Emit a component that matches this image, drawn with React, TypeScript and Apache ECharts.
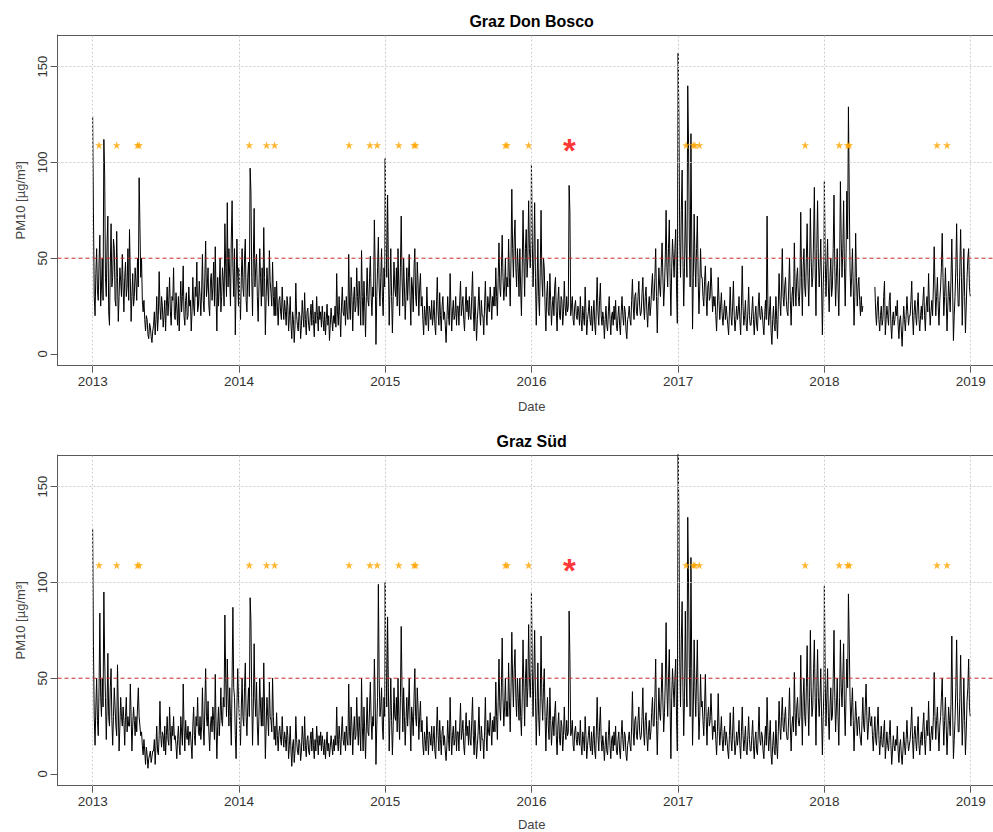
import React, { useEffect, useRef } from "react";
import * as echarts from "echarts";

// ---------- data ----------
const YEARS = [2013, 2014, 2015, 2016, 2017, 2018];
const STEP_DAYS = 2; // one reading every 2 days

// Graz Don Bosco, PM10 [µg/m³]
const bosco2013 = [
  124, 74, 30, 20, 42, 55, 33, 28, 48, 62, 25, 35, 50, 28, 112, 94,
  40, 30, 58, 72, 22, 15, 45, 68, 35, 40, 60, 55, 28, 25,
  64, 40, 17, 30, 45, 38, 30, 52, 35, 22, 40, 48, 30, 35, 55, 28,
  65, 40, 17, 30, 42, 25, 30, 45, 38, 28, 50, 35, 92, 67, 40,
  50, 28, 22, 28, 18, 12, 20, 18, 10, 8, 16, 14, 9, 6, 12,
  15, 22, 10, 18, 30, 12, 20, 43, 25, 18, 30, 25, 14, 20, 28,
  12, 25, 35, 20, 28, 40, 22, 15, 30, 28, 45, 20, 18, 32, 24, 15,
  30, 12, 25, 38, 22, 30, 46, 20, 15, 28, 32, 18, 20, 35, 25,
  28, 12, 22, 40, 25, 20, 35, 30, 48, 22, 25, 38, 30, 20, 33,
  52, 28, 22, 40, 59, 30, 35, 45, 25, 20, 38, 42, 28, 35, 48, 25,
  56, 30, 12, 40, 25, 35, 50, 22, 30, 45, 38, 25, 68, 45, 30,
  79, 35, 55, 40, 25, 60, 80, 45, 30, 55, 10, 35, 60, 40, 25,
];
const bosco2014 = [
  45, 30, 18, 40, 55, 35, 30, 50, 60, 28, 22, 40, 48, 30, 97, 85,
  40, 20, 50, 76, 35, 45, 52, 30, 17, 35, 55, 40, 25, 45,
  30, 66, 40, 10, 30, 45, 35, 25, 54, 38, 32, 25, 48, 30, 20, 35,
  20, 38, 25, 15, 28, 30, 22, 18, 35, 25, 18, 28, 22, 15, 30,
  25, 12, 20, 30, 15, 8, 22, 18, 6, 15, 37, 20, 15, 12, 22,
  20, 8, 15, 28, 20, 14, 32, 18, 10, 22, 24, 15, 12, 20, 26,
  15, 28, 18, 9, 22, 16, 30, 20, 12, 25, 18, 22, 14, 25, 18, 12,
  22, 10, 18, 26, 15, 20, 7, 15, 24, 18, 12, 20, 16, 25, 14,
  42, 22, 15, 30, 20, 9, 25, 35, 22, 20, 28, 15, 30, 22, 18,
  52, 25, 18, 40, 30, 12, 28, 35, 22, 25, 45, 30, 20, 38, 28, 15,
  54, 30, 15, 38, 25, 9, 30, 45, 28, 25, 40, 51, 30, 20, 35,
  30, 70, 45, 5, 30, 45, 61, 35, 25, 40, 55, 30, 20, 45, 35,
];
const bosco2015 = [
  102, 60, 40, 83, 45, 15, 35, 55, 30, 11, 30, 48, 35, 30, 45, 25,
  55, 35, 20, 45, 72, 40, 25, 50, 35, 18, 30, 45, 28, 40,
  52, 30, 15, 40, 35, 22, 45, 55, 30, 25, 48, 38, 20, 35, 42, 25,
  30, 18, 10, 25, 20, 15, 35, 22, 12, 25, 22, 18, 28, 15, 20,
  28, 15, 10, 25, 40, 22, 15, 32, 20, 12, 25, 30, 18, 22, 15,
  6, 18, 30, 20, 15, 42, 25, 12, 22, 28, 18, 20, 30, 15, 25,
  25, 15, 28, 38, 20, 25, 30, 18, 12, 25, 35, 22, 28, 18, 30, 20,
  18, 30, 43, 22, 12, 30, 20, 7, 18, 25, 35, 22, 15, 28, 20,
  20, 10, 25, 38, 22, 15, 30, 25, 22, 35, 28, 18, 30, 25, 35,
  25, 45, 30, 20, 40, 58, 35, 30, 45, 62, 40, 28, 35, 50, 30, 40,
  35, 60, 40, 25, 50, 86, 55, 40, 60, 70, 45, 35, 55, 45, 30,
  55, 35, 20, 45, 75, 50, 30, 55, 65, 40, 50, 80, 55, 45, 60,
];
const bosco2016 = [
  99, 60, 35, 50, 79, 40, 15, 35, 60, 30, 20, 45, 75, 40, 30, 50,
  45, 25, 12, 30, 38, 22, 20, 42, 28, 15, 25, 30, 20, 35,
  40, 22, 12, 28, 35, 20, 18, 30, 28, 15, 22, 38, 25, 20, 30, 22,
  25, 88, 74, 20, 25, 30, 18, 15, 25, 28, 20, 18, 25, 22, 15,
  30, 18, 12, 25, 20, 15, 35, 22, 10, 18, 22, 28, 18, 15, 25,
  12, 20, 28, 15, 10, 25, 40, 22, 15, 28, 37, 20, 15, 22, 18,
  8, 18, 25, 15, 12, 22, 30, 18, 10, 20, 22, 15, 25, 18, 28, 15,
  12, 20, 25, 15, 10, 22, 30, 20, 15, 25, 22, 12, 8, 18, 20,
  25, 18, 15, 28, 39, 25, 18, 30, 32, 22, 20, 30, 38, 25, 20,
  22, 32, 40, 25, 18, 30, 35, 22, 14, 25, 30, 20, 25, 35, 42, 28,
  28, 40, 55, 30, 11, 30, 45, 35, 30, 45, 58, 40, 25, 35, 50,
  75, 45, 35, 55, 70, 40, 20, 45, 60, 50, 40, 55, 65, 35, 16,
];
const bosco2017 = [
  157, 123, 60, 40, 75, 96, 50, 25, 45, 80, 55, 40, 140, 110, 60, 35,
  115, 60, 13, 40, 73, 50, 35, 55, 72, 40, 21, 35, 55, 40,
  40, 30, 25, 38, 46, 30, 20, 35, 38, 28, 30, 45, 35, 22, 30, 25,
  30, 20, 12, 25, 40, 28, 18, 25, 32, 20, 15, 22, 28, 18, 25,
  20, 15, 10, 22, 35, 20, 15, 25, 38, 20, 12, 18, 25, 18, 22,
  30, 18, 10, 25, 46, 25, 15, 20, 28, 15, 12, 22, 35, 20, 15,
  15, 22, 30, 18, 10, 20, 25, 15, 12, 25, 32, 20, 18, 25, 22, 15,
  10, 20, 28, 18, 72, 25, 15, 22, 30, 12, 5, 18, 25, 15, 12,
  30, 18, 8, 25, 42, 28, 20, 35, 55, 30, 25, 35, 40, 28, 22,
  20, 35, 50, 28, 15, 30, 35, 25, 58, 35, 25, 40, 45, 30, 25, 35,
  74, 40, 20, 45, 55, 35, 30, 50, 68, 40, 25, 45, 76, 50, 35,
  40, 60, 87, 45, 20, 55, 80, 50, 35, 45, 60, 35, 10, 35, 50,
];
const bosco2018 = [
  90, 50, 30, 45, 60, 35, 22, 40, 50, 30, 35, 55, 83, 45, 25, 40,
  55, 35, 20, 45, 90, 60, 40, 55, 80, 45, 25, 50, 85, 60,
  129, 85, 45, 30, 40, 55, 35, 15, 30, 63, 40, 25, 35, 40, 28, 20,
  30, 22, 25, null, null, null, null, null, null, null, null, null, null, null, null,
  null, null, 35, 22, 15, 25, 30, 18, 12, 20, 25, 15, 18, 30, 38,
  10, 18, 25, 20, 15, 28, 32, 15, 8, 18, 22, 15, 18, 25, 20,
  28, 15, 8, 18, 20, 12, 4, 15, 25, 18, 12, 20, 30, 22, 15, 20,
  20, 28, 38, 20, 10, 22, 28, 20, 15, 25, 32, 18, 12, 20, 25,
  18, 28, 35, 20, 12, 25, 30, 22, 42, 25, 15, 22, 28, 20, 35,
  56, 35, 20, 30, 40, 25, 15, 28, 35, 45, 63, 40, 20, 30, 45, 30,
  12, 25, 38, 30, 22, 40, 60, 35, 7, 20, 30, 45, 68, 40, 25,
  25, 45, 65, 40, 15, 35, 55, 30, 11, 25, 40, 50, 55, 35, 30,
];

// Graz Süd, PM10 [µg/m³]
const sued2013 = [
  128, 67, 30, 15, 35, 50, 28, 20, 45, 84, 40, 30, 50, 35, 95, 60,
  40, 18, 35, 63, 30, 25, 45, 55, 28, 15, 30, 45, 35, 25,
  20, 57, 35, 12, 25, 40, 30, 25, 35, 28, 15, 30, 40, 22, 30, 25,
  25, 47, 30, 12, 25, 35, 28, 20, 30, 22, 35, 45, 30, 25, 20,
  22, 15, 10, 18, 12, 5, 14, 10, 3, 8, 10, 12, 6, 9, 12,
  12, 18, 5, 15, 25, 12, 10, 20, 38, 20, 14, 22, 20, 12, 25,
  10, 20, 30, 18, 15, 35, 22, 12, 25, 20, 30, 18, 20, 15, 8, 18,
  25, 15, 10, 30, 22, 15, 47, 25, 12, 28, 20, 18, 25, 15, 22,
  22, 15, 8, 25, 35, 20, 15, 30, 25, 40, 22, 20, 30, 18, 25,
  45, 25, 15, 35, 55, 30, 25, 38, 22, 12, 25, 30, 22, 35, 28, 18,
  52, 25, 8, 25, 35, 20, 30, 45, 28, 25, 40, 35, 83, 50, 30,
  60, 40, 25, 45, 30, 15, 50, 87, 45, 40, 20, 8, 35, 55, 40,
];
const sued2014 = [
  40, 25, 15, 35, 50, 30, 25, 45, 58, 30, 20, 35, 45, 30, 92, 80,
  40, 15, 35, 68, 40, 30, 48, 25, 15, 30, 50, 35, 25, 40,
  25, 58, 35, 8, 25, 40, 30, 20, 48, 30, 28, 22, 50, 30, 18, 25,
  15, 32, 20, 12, 22, 25, 18, 15, 30, 20, 14, 22, 18, 12, 25,
  20, 8, 15, 25, 12, 4, 15, 18, 6, 12, 30, 18, 12, 10, 18,
  16, 7, 12, 25, 18, 12, 30, 15, 9, 18, 20, 12, 10, 18, 22,
  12, 24, 15, 8, 18, 12, 25, 18, 10, 20, 15, 22, 12, 20, 15, 10,
  18, 8, 15, 22, 12, 16, 9, 14, 20, 15, 10, 18, 12, 20, 15,
  35, 18, 12, 25, 18, 10, 22, 30, 18, 15, 22, 12, 25, 18, 15,
  47, 22, 15, 35, 25, 10, 22, 30, 18, 20, 40, 25, 15, 30, 22, 12,
  50, 25, 12, 35, 22, 8, 25, 40, 22, 20, 35, 48, 28, 18, 30,
  25, 60, 40, 5, 25, 40, 99, 50, 30, 35, 45, 25, 18, 40, 30,
];
const sued2015 = [
  100, 60, 35, 82, 45, 12, 30, 50, 28, 10, 25, 45, 30, 28, 40, 22,
  50, 30, 18, 40, 77, 45, 22, 45, 30, 15, 28, 40, 25, 35,
  50, 28, 12, 35, 30, 20, 40, 55, 30, 25, 45, 35, 18, 30, 38, 22,
  28, 15, 10, 22, 18, 12, 30, 20, 10, 22, 20, 15, 25, 12, 18,
  25, 12, 8, 22, 35, 20, 12, 28, 18, 10, 22, 25, 15, 20, 12,
  7, 15, 28, 18, 12, 40, 22, 10, 20, 25, 15, 18, 28, 12, 22,
  22, 12, 25, 37, 18, 22, 28, 15, 10, 22, 32, 20, 25, 15, 28, 18,
  15, 28, 40, 20, 10, 28, 18, 8, 15, 22, 35, 20, 12, 25, 18,
  18, 8, 22, 40, 20, 12, 28, 22, 20, 32, 25, 15, 28, 22, 30,
  22, 48, 30, 18, 38, 60, 35, 28, 45, 71, 40, 25, 35, 50, 30, 38,
  30, 58, 38, 22, 45, 74, 50, 35, 55, 65, 40, 30, 50, 40, 28,
  50, 30, 20, 40, 70, 45, 25, 50, 60, 35, 45, 78, 50, 40, 55,
];
const sued2016 = [
  95, 55, 30, 50, 75, 40, 15, 35, 58, 30, 20, 40, 72, 40, 28, 45,
  55, 30, 12, 30, 40, 25, 18, 45, 28, 15, 25, 30, 20, 32,
  38, 20, 10, 25, 32, 18, 15, 28, 25, 12, 20, 35, 22, 18, 28, 20,
  22, 85, 60, 20, 22, 28, 15, 12, 22, 25, 18, 15, 22, 20, 15,
  28, 15, 10, 22, 18, 12, 30, 20, 8, 15, 20, 25, 15, 12, 22,
  10, 18, 25, 12, 8, 22, 40, 20, 12, 25, 35, 18, 12, 20, 15,
  7, 15, 22, 12, 10, 20, 28, 15, 8, 18, 20, 12, 22, 15, 25, 12,
  10, 18, 22, 12, 8, 20, 28, 18, 12, 22, 20, 10, 7, 15, 18,
  22, 15, 12, 25, 43, 22, 15, 28, 30, 20, 18, 28, 35, 22, 18,
  20, 30, 45, 22, 15, 28, 32, 20, 12, 22, 28, 18, 22, 32, 40, 25,
  25, 40, 60, 28, 10, 28, 45, 32, 28, 42, 58, 38, 22, 32, 48,
  79, 45, 30, 50, 65, 35, 8, 40, 55, 45, 35, 50, 60, 30, 12,
];
const sued2017 = [
  170, 133, 60, 35, 70, 90, 45, 20, 40, 85, 50, 35, 134, 100, 55, 30,
  113, 55, 15, 35, 70, 45, 30, 50, 70, 38, 18, 30, 52, 35,
  38, 28, 20, 35, 52, 30, 15, 30, 35, 25, 28, 42, 30, 18, 25, 22,
  28, 18, 10, 22, 42, 25, 15, 22, 30, 18, 12, 20, 25, 15, 22,
  18, 12, 8, 20, 32, 18, 12, 22, 35, 18, 10, 15, 22, 15, 20,
  28, 15, 8, 22, 35, 20, 12, 18, 25, 12, 10, 20, 30, 18, 12,
  12, 20, 28, 15, 8, 18, 22, 12, 10, 22, 35, 18, 15, 22, 20, 12,
  8, 18, 25, 15, 40, 22, 12, 20, 28, 10, 5, 15, 22, 12, 10,
  28, 15, 8, 22, 38, 25, 18, 30, 40, 25, 22, 30, 35, 22, 18,
  18, 30, 45, 25, 12, 25, 30, 22, 53, 32, 20, 35, 40, 28, 25, 30,
  62, 35, 15, 40, 50, 30, 25, 45, 67, 38, 20, 40, 75, 45, 30,
  35, 55, 70, 40, 15, 45, 65, 40, 30, 40, 55, 30, 10, 30, 45,
];
const sued2018 = [
  98, 50, 25, 40, 55, 30, 18, 35, 45, 28, 30, 50, 75, 40, 22, 35,
  50, 30, 15, 40, 70, 45, 35, 50, 68, 35, 20, 40, 60, 45,
  94, 70, 40, 25, 35, 45, 28, 12, 25, 38, 30, 20, 28, 30, 22, 18,
  15, 28, 40, 25, 22, 35, 47, 30, 18, 25, 35, 28, 25, 30, 20,
  12, 22, 30, 18, 15, 25, 35, 20, 10, 18, 25, 15, 14, 22, 28,
  8, 15, 22, 15, 12, 20, 28, 15, 5, 12, 20, 15, 12, 18, 15,
  25, 12, 6, 15, 18, 10, 5, 12, 22, 15, 10, 18, 28, 18, 12, 15,
  18, 25, 35, 18, 8, 20, 25, 18, 12, 22, 30, 15, 10, 18, 22,
  15, 25, 32, 18, 10, 22, 28, 20, 38, 22, 12, 20, 25, 18, 30,
  53, 30, 18, 28, 35, 22, 12, 25, 30, 40, 50, 30, 15, 28, 40, 25,
  10, 22, 35, 28, 20, 38, 72, 35, 8, 18, 28, 45, 70, 38, 22,
  22, 40, 62, 35, 15, 30, 50, 28, 10, 22, 38, 45, 60, 35, 30,
];

const starDates = [
  "2013-01-17", "2013-03-02", "2013-04-23", "2013-04-27",
  "2014-01-27", "2014-03-11", "2014-03-31",
  "2014-10-03", "2014-11-24", "2014-12-12",
  "2015-02-04", "2015-03-14", "2015-03-18",
  "2015-10-28", "2015-11-01", "2015-12-25",
  "2017-01-21", "2017-02-08", "2017-02-12", "2017-02-23",
  "2017-11-14", "2018-02-07", "2018-02-28", "2018-03-04",
  "2018-10-09", "2018-11-03",
];
const STAR_LEVEL = 109;
const redStarDate = "2016-04-05";
const LIMIT_VALUE = 50;
const yTickValues = [0, 50, 100, 150];
const yGridValues = [100, 150];
const xTickYears = [2013, 2014, 2015, 2016, 2017, 2018, 2019];
const panelTitles = ["Graz Don Bosco", "Graz Süd"];

// ---------- helpers ----------
const DAY = 86400000;
const FONT = '"Liberation Sans", Arial, Helvetica, sans-serif';
const BOX = "#5a5a5a";
const parseDate = (s: string) => {
  const [y, m, d] = s.split("-").map(Number);
  return Date.UTC(y, m - 1, d);
};
const toSeries = (perYear: (number | null)[][]) => {
  const out: any[] = [];
  perYear.forEach((vals, yi) =>
    vals.forEach((v, k) => {
      out.push([Date.UTC(YEARS[yi], 0, 1 + STEP_DAYS * k), v == null ? "-" : v]);
    })
  );
  return out;
};
const yearTs = xTickYears.map((y) => Date.UTC(y, 0, 1));
const X_PAD = 87.7 * DAY;
const X_MIN = yearTs[0] - X_PAD;
const X_MAX = yearTs[yearTs.length - 1] + X_PAD;
const Y_MIN = -6.1;
const Y_MAX = 166.5;

const STAR_PATH =
  "path://M50,0 L61.8,35.3 L98.9,35.3 L68.9,57.1 L80.4,92.4 L50,70.6 L19.6,92.4 L31.1,57.1 L1.1,35.3 L38.2,35.3 Z";

export default function App() {
  const ref = useRef<HTMLDivElement>(null);

  useEffect(() => {
    if (!ref.current) return;
    const chart = echarts.init(ref.current, undefined, { renderer: "svg" });

    const panels = [
      toSeries([bosco2013, bosco2014, bosco2015, bosco2016, bosco2017, bosco2018]),
      toSeries([sued2013, sued2014, sued2015, sued2016, sued2017, sued2018]),
    ];
    const tops = [35, 455];
    const nameGaps = [34, 32];
    const PLOT_LEFT = 57.5;
    const PLOT_W = 948.3;
    const PLOT_H = 330.7;

    const grid: any[] = [];
    const xAxis: any[] = [];
    const yAxis: any[] = [];
    const series: any[] = [];
    const graphic: any[] = [];

    panels.forEach((data, i) => {
      const xi = 2 * i;
      grid.push({
        left: PLOT_LEFT,
        top: tops[i],
        width: PLOT_W,
        height: PLOT_H,
        show: false,
        containLabel: false,
        outerBoundsMode: "none",
      });
      // bottom axis (ticks, labels, lower border)
      xAxis.push({
        type: "value",
        gridIndex: i,
        position: "bottom",
        min: X_MIN,
        max: X_MAX,
        name: "Date",
        nameLocation: "middle",
        nameGap: nameGaps[i],
        nameTextStyle: { fontFamily: FONT, fontSize: 13, color: "#444" },
        axisLine: { show: true, onZero: false, lineStyle: { color: BOX, width: 1 } },
        axisTick: {
          show: true,
          inside: false,
          length: 7,
          customValues: yearTs,
          lineStyle: { color: BOX, width: 1 },
        },
        axisLabel: {
          show: true,
          customValues: yearTs,
          formatter: (v: number) => String(new Date(v).getUTCFullYear()),
          fontFamily: FONT,
          fontSize: 13.5,
          color: "#333",
          margin: 9,
        },
        splitLine: { show: false },
      });
      // top axis (upper border only)
      xAxis.push({
        type: "value",
        gridIndex: i,
        position: "top",
        min: X_MIN,
        max: X_MAX,
        axisLine: { show: true, onZero: false, lineStyle: { color: BOX, width: 1 } },
        axisTick: { show: false },
        axisLabel: { show: false },
        splitLine: { show: false },
      });
      yAxis.push({
        type: "value",
        gridIndex: i,
        position: "left",
        min: Y_MIN,
        max: Y_MAX,
        name: "PM10 [µg/m³]",
        nameLocation: "middle",
        nameGap: 31,
        nameRotate: 90,
        nameTextStyle: { fontFamily: FONT, fontSize: 13, color: "#444" },
        axisLine: { show: true, onZero: false, lineStyle: { color: BOX, width: 1 } },
        axisTick: {
          show: true,
          inside: false,
          length: 7,
          customValues: yTickValues,
          lineStyle: { color: BOX, width: 1 },
        },
        axisLabel: {
          show: true,
          customValues: yTickValues,
          rotate: 90,
          fontFamily: FONT,
          fontSize: 13,
          color: "#333",
          margin: 9,
        },
        splitLine: { show: false },
      });
      // dotted grid lines
      series.push({
        id: `grid-${i}`,
        name: `grid-${i}`,
        type: "line",
        xAxisIndex: xi,
        yAxisIndex: i,
        data: [],
        silent: true,
        z: 1,
        markLine: {
          silent: true,
          symbol: "none",
          animation: false,
          label: { show: false },
          lineStyle: { type: [2, 2], color: "#cfcfcf", width: 1 },
          data: [
            ...yearTs.map((t) => ({ xAxis: t })),
            ...yGridValues.map((v) => ({ yAxis: v })),
          ],
        },
      });
      // data line
      series.push({
        id: `pm10-${i}`,
        name: `pm10-${i}`,
        type: "line",
        xAxisIndex: xi,
        yAxisIndex: i,
        data,
        showSymbol: false,
        symbol: "none",
        connectNulls: false,
        clip: true,
        silent: true,
        z: 2,
        lineStyle: { color: "#000", width: 1 },
      });
      // orange stars
      series.push({
        id: `stars-${i}`,
        name: `stars-${i}`,
        type: "scatter",
        xAxisIndex: xi,
        yAxisIndex: i,
        data: starDates.map((d) => [parseDate(d), STAR_LEVEL]),
        symbol: STAR_PATH,
        symbolSize: 8,
        silent: true,
        z: 3,
        itemStyle: { color: "#FFA500" },
      });
      // limit value line at 50 µg/m³
      series.push({
        id: `limit-${i}`,
        name: `limit-${i}`,
        type: "line",
        xAxisIndex: xi,
        yAxisIndex: i,
        data: [
          [X_MIN, LIMIT_VALUE],
          [X_MAX, LIMIT_VALUE],
        ],
        showSymbol: false,
        symbol: "none",
        silent: true,
        z: 5,
        itemStyle: { color: "#cc2a2a" },
        lineStyle: { type: [4, 3], color: "#cc2a2a", width: 1 },
      });
      // red asterisk
      series.push({
        id: `event-${i}`,
        name: `event-${i}`,
        type: "scatter",
        xAxisIndex: xi,
        yAxisIndex: i,
        data: [[parseDate(redStarDate), STAR_LEVEL]],
        symbolSize: 2,
        silent: true,
        z: 4,
        itemStyle: { color: "transparent" },
        label: {
          show: true,
          formatter: "*",
          position: "inside",
          offset: [0, 5],
          color: "#ff0000",
          fontFamily: FONT,
          fontSize: 33,
          fontWeight: "bold",
        },
      });
      graphic.push({
        type: "text",
        x: PLOT_LEFT + PLOT_W / 2,
        y: tops[i] - 14,
        style: {
          text: panelTitles[i],
          fill: "#000",
          font: `bold 16px ${FONT}`,
          textAlign: "center",
          textVerticalAlign: "middle",
          align: "center",
          verticalAlign: "middle",
        },
      });
    });

    chart.setOption({
      animation: false,
      backgroundColor: "#fff",
      textStyle: { fontFamily: FONT },
      grid,
      xAxis,
      yAxis,
      series,
      graphic,
    });
    return () => chart.dispose();
  }, []);

  return (
    <div
      style={{
        position: "fixed",
        left: 0,
        top: 0,
        width: 993,
        height: 832,
        overflow: "hidden",
        background: "#fff",
      }}
    >
      <div ref={ref} style={{ width: 1012, height: 832 }} />
    </div>
  );
}
